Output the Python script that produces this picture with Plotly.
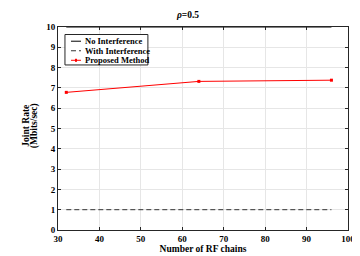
import plotly.graph_objects as go

rf_chains = [32, 64, 96]
no_interference = [10, 10, 10]
with_interference = [1, 1, 1]
proposed = [6.78, 7.32, 7.38]

x_ticks = [30, 40, 50, 60, 70, 80, 90, 100]
y_ticks = list(range(0, 11))

series_names = ["No Interference", "With Interference", "Proposed Method"]
series_colors = ["black", "#333333", "red"]
series_dash = ["solid", "5px,3px", "solid"]

FONT = "Liberation Serif"

fig = go.Figure()
fig.add_trace(go.Scatter(x=rf_chains, y=no_interference, mode="lines", name=series_names[0],
                         line=dict(color=series_colors[0], width=1)))
fig.add_trace(go.Scatter(x=rf_chains, y=with_interference, mode="lines", name=series_names[1],
                         line=dict(color=series_colors[1], width=1, dash=series_dash[1])))
fig.add_trace(go.Scatter(x=rf_chains, y=proposed, mode="lines+markers", name=series_names[2],
                         line=dict(color=series_colors[2], width=1),
                         marker=dict(symbol="square", size=3, color="red")))

axis_common = dict(showgrid=True, gridcolor="#e6e6e6", gridwidth=1, showline=True, linecolor="#262626",
                   linewidth=1, mirror="ticks", ticks="inside", ticklen=3, tickcolor="#262626",
                   zeroline=False, tickfont=dict(family=FONT, size=9, color="black"))

# manual compact legend (MATLAB-style)
shapes = [dict(type="rect", xref="paper", yref="paper", x0=0.024, x1=0.310, y0=0.813, y1=0.963,
               line=dict(color="#262626", width=1), fillcolor="white", layer="above")]
annotations = []
row_y = [0.930, 0.883, 0.836]
for i in range(3):
    shapes.append(dict(type="line", xref="paper", yref="paper", x0=0.0448, x1=0.0793, y0=row_y[i], y1=row_y[i],
                       line=dict(color=series_colors[i], width=1, dash=series_dash[i]), layer="above"))
    annotations.append(dict(xref="paper", yref="paper", x=0.0862, y=row_y[i], xanchor="left", yanchor="middle",
                            text=f"<b>{series_names[i]}</b>", showarrow=False,
                            font=dict(family=FONT, size=8.5, color="black")))
shapes.append(dict(type="rect", xref="paper", yref="paper", x0=0.0603, x1=0.0637,
                   y0=row_y[2] - 0.006, y1=row_y[2] + 0.006,
                   line=dict(color="red", width=1), fillcolor="red", layer="above"))

# y-axis title in two tight lines
for txt, xs in [("Joint Rate", -25), ("(Mbits/sec)", -16)]:
    annotations.append(dict(xref="paper", yref="paper", x=0, y=0.514, xanchor="right", yanchor="middle",
                            xshift=xs, text=f"<b>{txt}</b>", textangle=-90, showarrow=False,
                            font=dict(family=FONT, size=9.5, color="black")))

fig.update_layout(
    width=360, height=256,
    margin=dict(l=50, r=20, t=19, b=23),
    paper_bgcolor="white", plot_bgcolor="white",
    font=dict(family=FONT, size=9.5, color="black"),
    title=dict(text="<b><i>ρ</i>=0.5</b>", x=0.5, xanchor="center", y=0.985, yanchor="top",
               font=dict(family=FONT, size=9.5, color="black")),
    xaxis=dict(range=[30, 100], tickvals=x_ticks, ticktext=[f"<b>{v}</b>" for v in x_ticks],
               title=dict(text="<b>Number of RF chains</b>", standoff=2,
                          font=dict(family=FONT, size=9.5, color="black")), **axis_common),
    yaxis=dict(range=[0, 10], tickvals=y_ticks, ticktext=[f"<b>{v}</b>" for v in y_ticks],
               **axis_common),
    shapes=shapes,
    annotations=annotations,
    showlegend=False,
)

fig.write_html("out.html")
